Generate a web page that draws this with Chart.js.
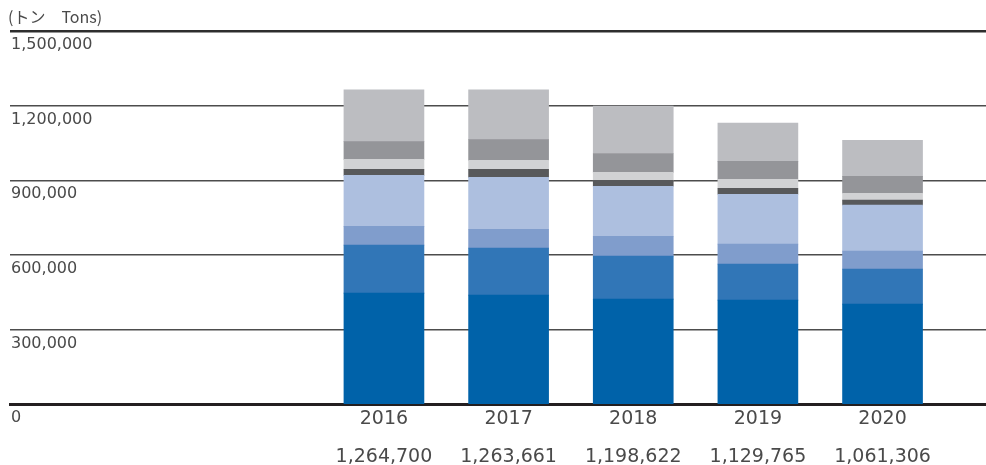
<!DOCTYPE html>
<html>
<head>
<meta charset="utf-8">
<script src="https://cdn.jsdelivr.net/npm/chart.js@4/dist/chart.umd.min.js"></script>
<style>
  html, body { margin: 0; padding: 0; background: #fff; }
  #wrap { width: 986px; height: 465px; position: relative; }
</style>
</head>
<body>
<div id="wrap"><canvas id="chart"></canvas></div>
<script>
const years = [2016, 2017, 2018, 2019, 2020];
const totals = [1264700, 1263661, 1198622, 1129765, 1061306];
// stacked segments, bottom to top
const seg1 = [446000, 438000, 422000, 418000, 402000];
const seg2 = [193000, 189000, 173000, 145000, 141000];
const seg3 = [76000, 76000, 80000, 80000, 72000];
const seg4 = [205000, 209000, 201000, 201000, 185000];
const seg5 = [24000, 32000, 24000, 24000, 20000];
const seg6 = [40000, 36000, 32000, 36000, 28000];
const seg7 = [72000, 84000, 76000, 72000, 68000];
const seg8 = [208000, 200000, 191000, 154000, 145000];
const yTicks = [0, 300000, 600000, 900000, 1200000, 1500000];

const FONT = "'DejaVu Sans', 'Noto Sans CJK JP', sans-serif";
const TEXT = '#4a4a4a';

const segs = [seg1, seg2, seg3, seg4, seg5, seg6, seg7, seg8];
const colors = ['#0062a9', '#3176b7', '#809dcc', '#adbfdf', '#58595b', '#d1d2d4', '#949599', '#bcbdc1'];

const datasets = segs.map((s, i) => ({
  label: 'segment ' + (i + 1),
  data: s.map((v, j) => ({ x: years[j], y: v })),
  backgroundColor: colors[i],
  borderWidth: 0,
  barThickness: 80
}));

var ctx = document.getElementById('chart');
const chart = new Chart(ctx, {
  type: 'bar',
  data: { datasets: datasets },
  options: {
    responsive: true,
    maintainAspectRatio: false,
    animation: false,
    layout: { padding: { left: 8, right: 0, top: 0, bottom: -8 } },
    plugins: {
      legend: { display: false },
      tooltip: { enabled: false },
      title: {
        display: true,
        text: '(トン　Tons)',
        align: 'start',
        color: TEXT,
        font: { family: "'Noto Sans CJK JP', sans-serif", size: 16, weight: 'normal', lineHeight: 1.2 },
        padding: { top: 7, bottom: 5 }
      }
    },
    scales: {
      x: {
        type: 'linear',
        offset: false,
        stacked: true,
        min: 2013.0,
        max: 2020.83,
        z: 1,
        grid: { display: false, drawTicks: false },
        border: { display: true, color: '#231f20', width: 3 },
        afterBuildTicks: s => { s.ticks = years.map(v => ({ value: v })); },
        ticks: {
          padding: 6,
          color: TEXT,
          font: { family: FONT, size: 19, lineHeight: 1 },
          maxRotation: 0,
          autoSkip: false,
          callback: v => {
            const i = years.indexOf(v);
            return [String(v), '', totals[i].toLocaleString('en-US')];
          }
        }
      },
      y: {
        stacked: true,
        min: 0,
        max: 1500000,
        afterBuildTicks: s => { s.ticks = yTicks.map(v => ({ value: v })); },
        border: { display: false },
        grid: {
          drawTicks: false,
          color: c => c.tick && c.tick.value === 1500000 ? '#2e2e2e' : '#4d4d4d',
          lineWidth: c => {
            if (!c.tick) return 1.5;
            if (c.tick.value === 0) return 0;
            if (c.tick.value === 1500000) return 2.5;
            return 1.5;
          }
        },
        ticks: {
          mirror: true,
          padding: 1,
          labelOffset: 14,
          color: TEXT,
          font: { family: FONT, size: 16 },
          callback: v => v.toLocaleString('en-US')
        }
      }
    }
  }
});
</script>
</body>
</html>
